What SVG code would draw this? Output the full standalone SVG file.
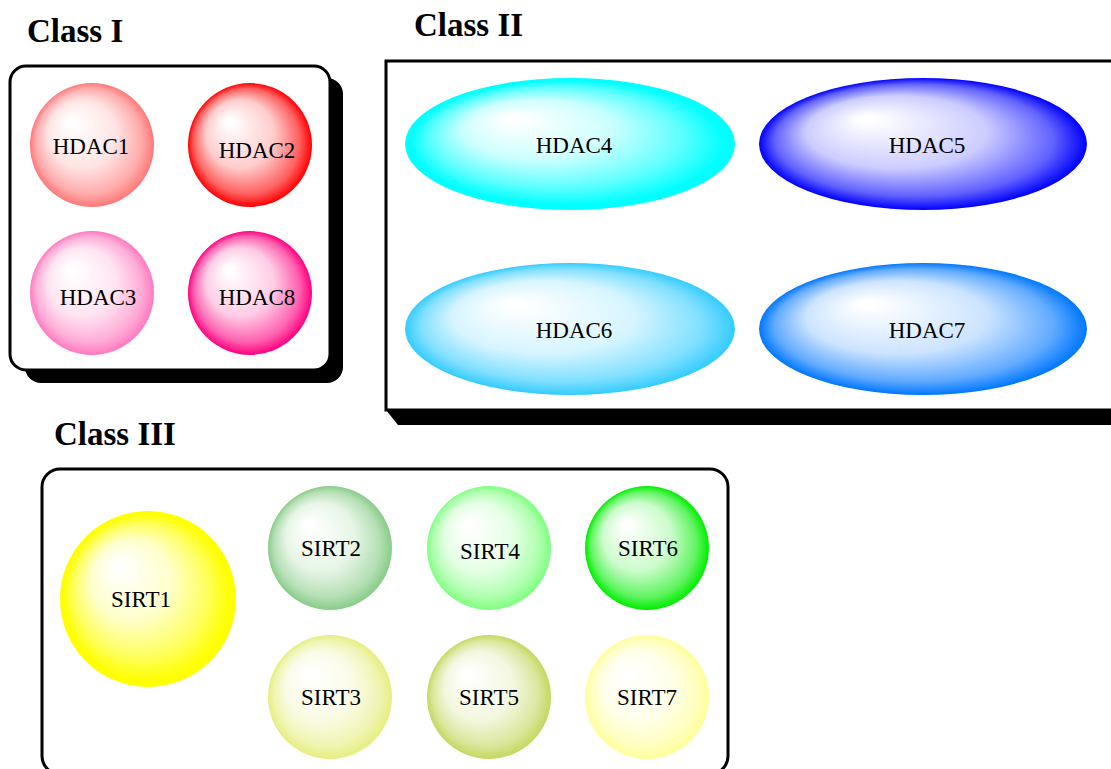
<svg xmlns="http://www.w3.org/2000/svg" width="1111" height="769" viewBox="0 0 1111 769">
<defs>
<style>
.title{font-family:"Liberation Serif","Times New Roman",serif;font-weight:bold;font-size:33px;fill:#000}
.lbl{font-family:"Liberation Serif","Times New Roman",serif;font-size:23px;fill:#000;text-anchor:middle}
.box{fill:#fff;stroke:#000;stroke-width:3}
.a{stop-opacity:0}
.b{stop-opacity:0.2}
.c{stop-opacity:0.62}
.d{stop-opacity:1}
</style>
<radialGradient id="g1" cx="0.5" cy="0.5" r="0.5" fx="0.32" fy="0.3"><stop offset="0.05" class="a" stop-color="#FF7878"/><stop offset="0.55" class="b" stop-color="#FF7878"/><stop offset="0.85" class="c" stop-color="#FF7878"/><stop offset="1" class="d" stop-color="#FF7878"/></radialGradient>
<radialGradient id="g2" cx="0.5" cy="0.5" r="0.5" fx="0.32" fy="0.3"><stop offset="0.05" class="a" stop-color="#FF0000"/><stop offset="0.55" class="b" stop-color="#FF0000"/><stop offset="0.85" class="c" stop-color="#FF0000"/><stop offset="1" class="d" stop-color="#FF0000"/></radialGradient>
<radialGradient id="g3" cx="0.5" cy="0.5" r="0.5" fx="0.32" fy="0.3"><stop offset="0.05" class="a" stop-color="#FF7AC0"/><stop offset="0.55" class="b" stop-color="#FF7AC0"/><stop offset="0.85" class="c" stop-color="#FF7AC0"/><stop offset="1" class="d" stop-color="#FF7AC0"/></radialGradient>
<radialGradient id="g8" cx="0.5" cy="0.5" r="0.5" fx="0.32" fy="0.3"><stop offset="0.05" class="a" stop-color="#FF0080"/><stop offset="0.55" class="b" stop-color="#FF0080"/><stop offset="0.85" class="c" stop-color="#FF0080"/><stop offset="1" class="d" stop-color="#FF0080"/></radialGradient>
<radialGradient id="g4" cx="0.5" cy="0.5" r="0.5" fx="0.32" fy="0.3"><stop offset="0.05" class="a" stop-color="#00FFFF"/><stop offset="0.45" class="b" stop-color="#00FFFF"/><stop offset="0.75" class="c" stop-color="#00FFFF"/><stop offset="0.95" class="d" stop-color="#00FFFF"/></radialGradient>
<radialGradient id="g5" cx="0.5" cy="0.5" r="0.5" fx="0.32" fy="0.3"><stop offset="0.05" class="a" stop-color="#0000FF"/><stop offset="0.55" class="b" stop-color="#0000FF"/><stop offset="0.85" class="c" stop-color="#0000FF"/><stop offset="1" class="d" stop-color="#0000FF"/></radialGradient>
<radialGradient id="g6" cx="0.5" cy="0.5" r="0.5" fx="0.32" fy="0.3"><stop offset="0.05" class="a" stop-color="#33CCFF"/><stop offset="0.55" class="b" stop-color="#33CCFF"/><stop offset="0.85" class="c" stop-color="#33CCFF"/><stop offset="1" class="d" stop-color="#33CCFF"/></radialGradient>
<radialGradient id="g7" cx="0.5" cy="0.5" r="0.5" fx="0.32" fy="0.3"><stop offset="0.05" class="a" stop-color="#0077FF"/><stop offset="0.55" class="b" stop-color="#0077FF"/><stop offset="0.85" class="c" stop-color="#0077FF"/><stop offset="1" class="d" stop-color="#0077FF"/></radialGradient>
<radialGradient id="s1" cx="0.5" cy="0.5" r="0.5" fx="0.32" fy="0.3"><stop offset="0.05" class="a" stop-color="#FFFF00"/><stop offset="0.45" class="b" stop-color="#FFFF00"/><stop offset="0.75" class="c" stop-color="#FFFF00"/><stop offset="0.95" class="d" stop-color="#FFFF00"/></radialGradient>
<radialGradient id="s2" cx="0.5" cy="0.5" r="0.5" fx="0.32" fy="0.3"><stop offset="0.05" class="a" stop-color="#88CC88"/><stop offset="0.55" class="b" stop-color="#88CC88"/><stop offset="0.85" class="c" stop-color="#88CC88"/><stop offset="1" class="d" stop-color="#88CC88"/></radialGradient>
<radialGradient id="s3" cx="0.5" cy="0.5" r="0.5" fx="0.32" fy="0.3"><stop offset="0.05" class="a" stop-color="#E6EE80"/><stop offset="0.55" class="b" stop-color="#E6EE80"/><stop offset="0.85" class="c" stop-color="#E6EE80"/><stop offset="1" class="d" stop-color="#E6EE80"/></radialGradient>
<radialGradient id="s4" cx="0.5" cy="0.5" r="0.5" fx="0.32" fy="0.3"><stop offset="0.05" class="a" stop-color="#80FF80"/><stop offset="0.55" class="b" stop-color="#80FF80"/><stop offset="0.85" class="c" stop-color="#80FF80"/><stop offset="1" class="d" stop-color="#80FF80"/></radialGradient>
<radialGradient id="s5" cx="0.5" cy="0.5" r="0.5" fx="0.32" fy="0.3"><stop offset="0.05" class="a" stop-color="#C4D860"/><stop offset="0.55" class="b" stop-color="#C4D860"/><stop offset="0.85" class="c" stop-color="#C4D860"/><stop offset="1" class="d" stop-color="#C4D860"/></radialGradient>
<radialGradient id="s6" cx="0.5" cy="0.5" r="0.5" fx="0.32" fy="0.3"><stop offset="0.05" class="a" stop-color="#00EE00"/><stop offset="0.55" class="b" stop-color="#00EE00"/><stop offset="0.85" class="c" stop-color="#00EE00"/><stop offset="1" class="d" stop-color="#00EE00"/></radialGradient>
<radialGradient id="s7" cx="0.5" cy="0.5" r="0.5" fx="0.32" fy="0.3"><stop offset="0.05" class="a" stop-color="#FFFF99"/><stop offset="0.55" class="b" stop-color="#FFFF99"/><stop offset="0.85" class="c" stop-color="#FFFF99"/><stop offset="1" class="d" stop-color="#FFFF99"/></radialGradient>
</defs>

<g id="classI">
<rect x="25" y="78" width="318" height="305" rx="16" fill="#000"/>
<rect class="box" x="10" y="66" width="320" height="304" rx="16"/>
<text class="title" x="27" y="42">Class I</text>
</g>
<g id="classII">
<polygon points="386,410 1111,410 1111,425 398,425" fill="#000"/>
<path d="M1111,61 H386 V410 H1111" fill="#fff" stroke="#000" stroke-width="3"/>
<text class="title" x="414" y="36">Class II</text>
</g>
<g id="classIII">
<rect class="box" x="42" y="469" width="686" height="305" rx="18"/>
<text class="title" x="54" y="445">Class III</text>
</g>

<g id="HDAC1"><circle cx="92" cy="145" r="62" fill="url(#g1)"/><text class="lbl" x="91" y="154">HDAC1</text></g>
<g id="HDAC2"><circle cx="250" cy="145" r="62" fill="url(#g2)"/><text class="lbl" x="257" y="158">HDAC2</text></g>
<g id="HDAC3"><circle cx="92" cy="293" r="62" fill="url(#g3)"/><text class="lbl" x="98" y="305">HDAC3</text></g>
<g id="HDAC8"><circle cx="250" cy="293" r="62" fill="url(#g8)"/><text class="lbl" x="257" y="305">HDAC8</text></g>

<g id="HDAC4"><ellipse cx="570" cy="144" rx="165" ry="66" fill="url(#g4)"/><text class="lbl" x="574" y="153">HDAC4</text></g>
<g id="HDAC5"><ellipse cx="923" cy="144" rx="164" ry="66" fill="url(#g5)"/><text class="lbl" x="927" y="153">HDAC5</text></g>
<g id="HDAC6"><ellipse cx="570" cy="329" rx="165" ry="66" fill="url(#g6)"/><text class="lbl" x="574" y="338">HDAC6</text></g>
<g id="HDAC7"><ellipse cx="923" cy="329" rx="164" ry="66" fill="url(#g7)"/><text class="lbl" x="927" y="338">HDAC7</text></g>

<g id="SIRT1"><circle cx="148" cy="599" r="88" fill="url(#s1)"/><text class="lbl" x="141" y="607">SIRT1</text></g>
<g id="SIRT2"><circle cx="330" cy="548" r="62" fill="url(#s2)"/><text class="lbl" x="331" y="556">SIRT2</text></g>
<g id="SIRT4"><circle cx="489" cy="548" r="62" fill="url(#s4)"/><text class="lbl" x="490" y="559">SIRT4</text></g>
<g id="SIRT6"><circle cx="647" cy="548" r="62" fill="url(#s6)"/><text class="lbl" x="648" y="556">SIRT6</text></g>
<g id="SIRT3"><circle cx="330" cy="697" r="62" fill="url(#s3)"/><text class="lbl" x="331" y="705">SIRT3</text></g>
<g id="SIRT5"><circle cx="489" cy="697" r="62" fill="url(#s5)"/><text class="lbl" x="489" y="705">SIRT5</text></g>
<g id="SIRT7"><circle cx="647" cy="697" r="62" fill="url(#s7)"/><text class="lbl" x="647" y="705">SIRT7</text></g>

<g id="connectors"></g>
</svg>
